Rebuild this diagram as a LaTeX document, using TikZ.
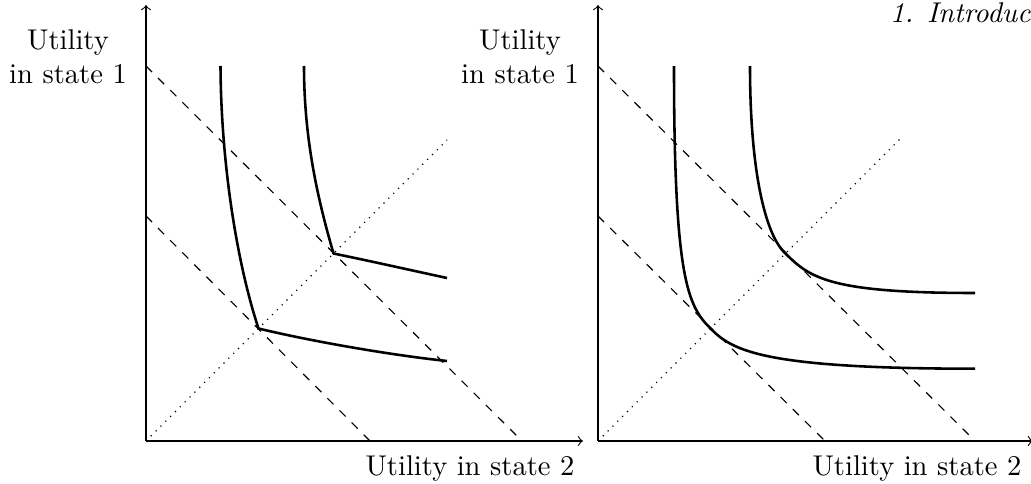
\documentclass[tikz,border=0pt]{standalone}
\begin{document}
\begin{tikzpicture}[x=0.35pt,y=-0.35pt,
  curve/.style={line width=0.9pt, line join=round},
  axis/.style={->, line width=0.4pt},
  budget/.style={dashed, line width=0.4pt},
  diag/.style={dotted, line width=0.4pt},
  lbl/.style={inner sep=0pt}]
\useasboundingbox (0,0) rectangle (1031,484);
\clip (0,0) rectangle (1031,484);
% header
\node[lbl, anchor=base east, font=\itshape] (hdr) at (1031,23) {1. Introduc};
% ---------- left panel ----------
\coordinate (O1) at (146,441);
\coordinate (Y1) at (146,5);
\coordinate (X1) at (583,441);
\draw[axis] (O1) -- (Y1);
\draw[axis] (O1) -- (X1);
\node[lbl, align=center] (ly1) at (68,57) {Utility\\in state 1};
\node[lbl, anchor=base east] (lx1) at (575,475) {Utility in state 2};
\coordinate (B1a) at (146,66);  \coordinate (B1b) at (522,441);
\coordinate (B1c) at (146,216); \coordinate (B1d) at (370,441);
\draw[budget] (B1a) -- (B1b);
\draw[budget] (B1c) -- (B1d);
\coordinate (D1) at (447,140);
\draw[diag] (O1) -- (D1);
\coordinate (T1) at (220.5,66);
\coordinate (K1) at (258.5,328.5);
\coordinate (E1) at (447,361);
\coordinate (T2) at (304,66);
\coordinate (K2) at (333.5,253.5);
\coordinate (E2) at (447,278);
\draw[curve] (T1) .. controls (221,160) and (236,260) .. (K1)
  .. controls (310,341) and (390,355) .. (E1);
\draw[curve] (T2) .. controls (304,140) and (318,200) .. (K2)
  .. controls (370,261) and (410,270) .. (E2);
% ---------- right panel ----------
\coordinate (O2) at (598,441);
\coordinate (Y2) at (598,5);
\coordinate (X2) at (1033,441);
\draw[axis] (O2) -- (Y2);
\draw[axis] (O2) -- (X2);
\node[lbl, align=center] (ly2) at (520,57) {Utility\\in state 1};
\node[lbl, anchor=base east] (lx2) at (1022,475) {Utility in state 2};
\coordinate (B2a) at (598,66);  \coordinate (B2b) at (975,441);
\coordinate (B2c) at (598,216); \coordinate (B2d) at (825,441);
\draw[budget] (B2a) -- (B2b);
\draw[budget] (B2c) -- (B2d);
\coordinate (D2) at (900,139);
\draw[diag] (O2) -- (D2);
\coordinate (T3) at (674,66);
\coordinate (K3) at (710.5,328.5);
\coordinate (E3) at (975,368.7);
\coordinate (T4) at (750,66);
\coordinate (K4) at (785.5,253.5);
\coordinate (E4) at (975,293);
\draw[curve] (T3) .. controls (674,280) and (688,306) .. (K3)
  .. controls (732,350) and (760,368.7) .. (E3);
\draw[curve] (T4) .. controls (750,170) and (765,235) .. (K4)
  .. controls (810,278) and (830,293) .. (E4);
\end{tikzpicture}
\end{document}
